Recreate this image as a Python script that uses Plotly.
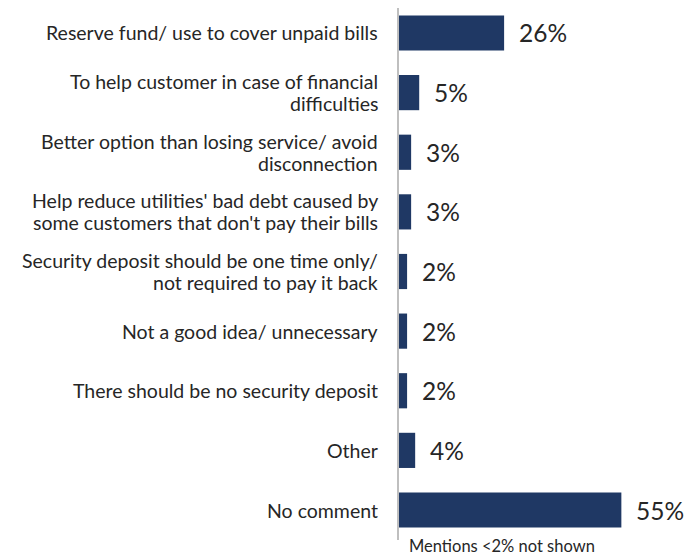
import plotly.graph_objects as go

categories = [
    "Reserve fund/ use to cover unpaid bills",
    "To help customer in case of financial<br>difficulties",
    "Better option than losing service/ avoid<br>disconnection",
    "Help reduce utilities' bad debt caused by<br>some customers that don't pay their bills",
    "Security deposit should be one time only/<br>not required to pay it back",
    "Not a good idea/ unnecessary",
    "There should be no security deposit",
    "Other",
    "No comment",
]
values = [26, 5, 3, 3, 2, 2, 2, 4, 55]
value_labels = ["26%", "5%", "3%", "3%", "2%", "2%", "2%", "4%", "55%"]
footnote = "Mentions <2% not shown"

BAR = "#1F3864"
TXT = "#262626"
FONT = "Lato, Open Sans, sans-serif"
LINE_H = 22

fig = go.Figure(go.Bar(
    x=values, y=categories, orientation="h",
    marker=dict(color=BAR, line=dict(width=0)),
    width=0.59,
))

# category labels (one annotation per text line for tight line spacing)
for c in categories:
    lines = c.split("<br>")
    n = len(lines)
    for i, ln in enumerate(lines):
        fig.add_annotation(x=0, y=c, text=ln, showarrow=False, xanchor="right",
                           yanchor="middle", xshift=-19,
                           yshift=((n - 1) / 2 - i) * LINE_H,
                           font=dict(size=19.5, color=TXT, family=FONT))

for c, v, t in zip(categories, values, value_labels):
    fig.add_annotation(x=v, y=c, text=t, showarrow=False, xanchor="left",
                       xshift=13, font=dict(size=24.5, color=TXT, family=FONT))

fig.add_annotation(x=0, y=-6 / 532, xref="x", yref="paper", text=footnote, showarrow=False,
                   xanchor="left", yanchor="middle", xshift=8,
                   font=dict(size=16.5, color=TXT, family=FONT))

fig.update_layout(
    width=690, height=547,
    margin=dict(l=391, r=16, t=0, b=15, autoexpand=False),
    paper_bgcolor="white", plot_bgcolor="white",
    showlegend=False,
    xaxis=dict(range=[0, 70], visible=False, showgrid=False, zeroline=False,
               automargin=False),
    yaxis=dict(range=[8.503, -0.419], showgrid=False, zeroline=False,
               showline=True, linecolor="#BFBFBF", linewidth=1.5,
               ticks="", showticklabels=False, automargin=False),
)

fig.write_html("out.html")
